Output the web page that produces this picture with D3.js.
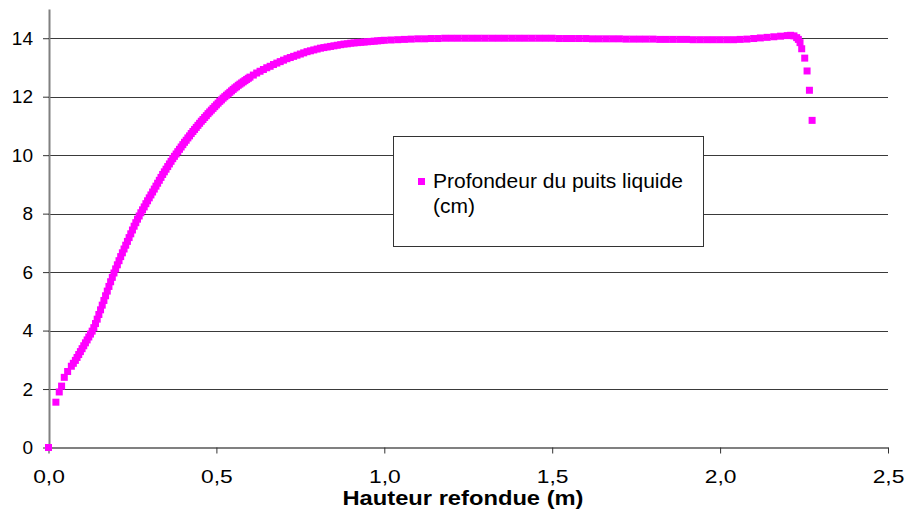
<!DOCTYPE html>
<html>
<head>
<meta charset="utf-8">
<script src="https://cdn.jsdelivr.net/npm/d3@7"></script>
<style>
  html, body { margin: 0; padding: 0; background: #fff; }
  svg { display: block; font-family: "Liberation Sans", Arial, sans-serif; }
</style>
</head>
<body>
<svg id="chart" width="905" height="512"></svg>
<script>
// Hauteur refondue (m)
const hauteur = [
  0, 0.022, 0.032, 0.039, 0.047, 0.057, 0.068, 0.074,
  0.080, 0.085, 0.090, 0.095, 0.100, 0.105, 0.110, 0.115, 0.120, 0.125,
  0.130, 0.135, 0.140, 0.145, 0.150, 0.155, 0.160, 0.165, 0.170, 0.175,
  0.180, 0.185, 0.190, 0.195, 0.200, 0.205, 0.210, 0.215, 0.220, 0.225,
  0.230, 0.235, 0.240, 0.245, 0.250, 0.255, 0.260, 0.265, 0.270, 0.275,
  0.280, 0.285, 0.290, 0.295, 0.300, 0.305, 0.310, 0.315, 0.320, 0.325,
  0.330, 0.335, 0.340, 0.345, 0.350, 0.355, 0.360, 0.365, 0.370, 0.375,
  0.380, 0.385, 0.390, 0.395, 0.400, 0.405, 0.410, 0.415, 0.420, 0.425,
  0.430, 0.435, 0.440, 0.445, 0.450, 0.455, 0.460, 0.465, 0.470, 0.475,
  0.480, 0.485, 0.490, 0.495, 0.500, 0.505, 0.510, 0.515, 0.520, 0.525,
  0.530, 0.535, 0.540, 0.545, 0.550, 0.555, 0.560, 0.565, 0.570, 0.575,
  0.580, 0.585, 0.590, 0.595, 0.600,
  0.61, 0.62, 0.63, 0.64, 0.65, 0.66, 0.67, 0.68, 0.69,
  0.70, 0.71, 0.72, 0.73, 0.74, 0.75, 0.76, 0.77, 0.78, 0.79,
  0.80, 0.81, 0.82, 0.83, 0.84, 0.85, 0.86, 0.87, 0.88, 0.89,
  0.90, 0.91, 0.92, 0.93, 0.94, 0.95, 0.96, 0.97, 0.98, 0.99,
  1.00, 1.02, 1.04, 1.06, 1.08, 1.10, 1.12, 1.14, 1.16, 1.18,
  1.20, 1.22, 1.24, 1.26, 1.28, 1.30, 1.32, 1.34, 1.36, 1.38,
  1.40, 1.42, 1.44, 1.46, 1.48, 1.50, 1.52, 1.54, 1.56, 1.58,
  1.60, 1.62, 1.64, 1.66, 1.68, 1.70, 1.72, 1.74, 1.76, 1.78,
  1.80, 1.82, 1.84, 1.86, 1.88, 1.90, 1.92, 1.94, 1.96, 1.98,
  2.00, 2.02, 2.04, 2.06, 2.08, 2.10, 2.12, 2.14, 2.16, 2.18,
  2.20, 2.21, 2.22, 2.228, 2.233, 2.238, 2.243, 2.252, 2.259, 2.266, 2.274
];

// Profondeur du puits liquide (cm)
const profondeur = [
  0, 1.55, 1.9, 2.1, 2.4, 2.6, 2.78, 2.88,
  2.98, 3.08, 3.18, 3.28, 3.38, 3.48, 3.58, 3.68, 3.78, 3.88,
  3.98, 4.10, 4.24, 4.39, 4.55, 4.71, 4.87, 5.03, 5.19, 5.35,
  5.51, 5.67, 5.82, 5.97, 6.11, 6.25, 6.39, 6.53, 6.66, 6.79,
  6.92, 7.05, 7.18, 7.31, 7.44, 7.57, 7.69, 7.81, 7.92, 8.03,
  8.13, 8.23, 8.34, 8.44, 8.54, 8.64, 8.74, 8.84, 8.94, 9.04,
  9.14, 9.24, 9.34, 9.43, 9.52, 9.61, 9.70, 9.79, 9.88, 9.96,
  10.04, 10.12, 10.20, 10.28, 10.36, 10.44, 10.51, 10.59, 10.66, 10.74,
  10.81, 10.88, 10.95, 11.02, 11.09, 11.16, 11.22, 11.29, 11.35, 11.42,
  11.48, 11.54, 11.60, 11.66, 11.72, 11.78, 11.84, 11.89, 11.95, 12.00,
  12.05, 12.10, 12.15, 12.20, 12.25, 12.30, 12.34, 12.39, 12.43, 12.47,
  12.51, 12.55, 12.59, 12.63, 12.67,
  12.74, 12.81, 12.87, 12.93, 12.99, 13.04, 13.1, 13.15, 13.2,
  13.25, 13.3, 13.34, 13.38, 13.42, 13.46, 13.5, 13.54, 13.57, 13.6,
  13.63, 13.66, 13.68, 13.7, 13.72, 13.74, 13.76, 13.78, 13.8, 13.81,
  13.83, 13.84, 13.85, 13.86, 13.87, 13.88, 13.89, 13.9, 13.91, 13.92,
  13.93, 13.94, 13.95, 13.96, 13.97, 13.98, 13.98, 13.99, 13.99, 14.0,
  14.0, 14.0, 14.0, 14.0, 14.0, 14.0, 14.0, 14.0, 14.0, 14.0,
  14.0, 14.0, 14.0, 14.0, 14.0, 14.0, 13.99, 13.99, 13.99, 13.99,
  13.99, 13.98, 13.98, 13.98, 13.98, 13.98, 13.97, 13.97, 13.97, 13.97,
  13.97, 13.96, 13.96, 13.96, 13.96, 13.96, 13.95, 13.95, 13.95, 13.95,
  13.95, 13.95, 13.95, 13.96, 13.97, 13.99, 14.01, 14.03, 14.05, 14.07,
  14.09, 14.1, 14.08, 14.02, 13.96, 13.85, 13.64, 13.32, 12.88, 12.22, 11.19
];

const xTicks = [0, 0.5, 1.0, 1.5, 2.0, 2.5];
const yTicks = [0, 2, 4, 6, 8, 10, 12, 14];
const seriesName = ["Profondeur du puits liquide", "(cm)"];
const xTitle = "Hauteur refondue (m)";

const svg = d3.select("#chart");
const x = d3.scaleLinear().domain([0, 2.5]).range([48.5, 888]);
const y = d3.scaleLinear().domain([0, 15]).range([447.5, 9]);
const fmt = d => d3.format(".1f")(d).replace(".", ",");

// horizontal gridlines
svg.append("g")
  .selectAll("line")
  .data(yTicks.filter(d => d > 0))
  .join("line")
  .attr("x1", x(0)).attr("x2", x(2.5))
  .attr("y1", d => Math.round(y(d)) + 0.5).attr("y2", d => Math.round(y(d)) + 0.5)
  .attr("stroke", "#3a3a3a").attr("stroke-width", 1);

// x axis (labels drawn slightly wide)
const gx = svg.append("g")
  .attr("transform", `translate(0,${Math.round(y(0)) - 0.5})`)
  .call(d3.axisBottom(x).tickValues(xTicks).tickSize(6).tickPadding(16).tickSizeOuter(0).tickFormat(fmt));
gx.select(".domain").attr("stroke", "#808080").attr("stroke-width", 2);
gx.selectAll(".tick line").attr("stroke", "#333");
gx.selectAll(".tick text").attr("font-size", 19).attr("fill", "#000")
  .attr("font-family", "Liberation Sans, Arial, sans-serif")
  .attr("transform", "scale(1.2,1)");

// y axis
const gy = svg.append("g")
  .attr("transform", `translate(${Math.round(x(0))},0)`)
  .call(d3.axisLeft(y).tickValues(yTicks).tickSize(6).tickPadding(10).tickSizeOuter(0).tickFormat(d3.format("d")));
gy.select(".domain").attr("stroke", "#808080").attr("stroke-width", 2);
gy.selectAll(".tick line").attr("stroke", "#333");
gy.selectAll(".tick text").attr("font-size", 19).attr("fill", "#000")
  .attr("font-family", "Liberation Sans, Arial, sans-serif");

// x axis title
svg.append("text")
  .attr("x", 463).attr("y", 504.5)
  .attr("text-anchor", "middle")
  .attr("font-size", 20).attr("font-weight", "bold")
  .attr("textLength", 241).attr("lengthAdjust", "spacingAndGlyphs")
  .text(xTitle);

// legend
const lg = svg.append("g");
lg.append("rect")
  .attr("x", 393.5).attr("y", 136.5).attr("width", 310).attr("height", 110)
  .attr("fill", "#fff").attr("stroke", "#333").attr("stroke-width", 1);
lg.append("rect")
  .attr("x", 418).attr("y", 178).attr("width", 7).attr("height", 7)
  .attr("fill", "#ff00ff");
lg.selectAll("text.lbl")
  .data(seriesName)
  .join("text")
  .attr("class", "lbl")
  .attr("x", 433).attr("y", (d, i) => 188 + i * 24.5)
  .attr("font-size", 21).attr("fill", "#000")
  .text(d => d);

// markers
svg.append("g")
  .selectAll("rect")
  .data(hauteur.map((h, i) => [h, profondeur[i]]))
  .join("rect")
  .attr("x", d => x(d[0]) - 3.5)
  .attr("y", d => y(d[1]) - 3.5)
  .attr("width", 7).attr("height", 7)
  .attr("fill", "#ff00ff");
</script>
</body>
</html>
